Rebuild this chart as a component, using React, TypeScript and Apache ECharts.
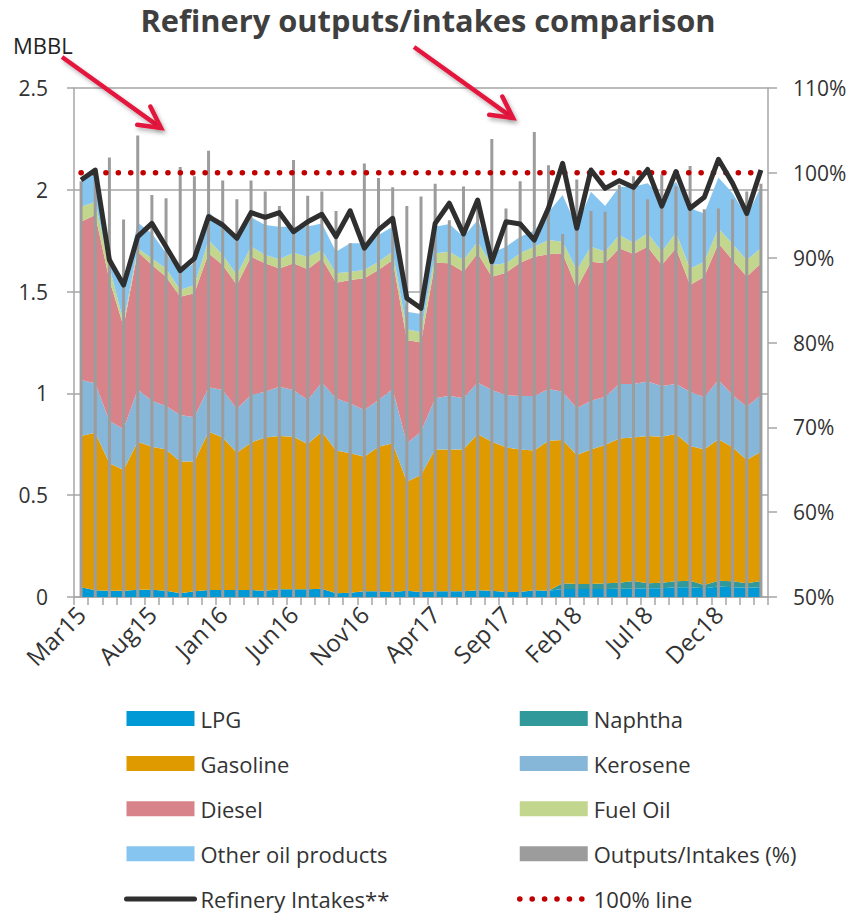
import React, { useEffect, useRef } from "react";
import * as echarts from "echarts";

const months = ["Mar15","Apr15","May15","Jun15","Jul15","Aug15","Sep15","Oct15","Nov15","Dec15","Jan16","Feb16","Mar16","Apr16","May16","Jun16","Jul16","Aug16","Sep16","Oct16","Nov16","Dec16","Jan17","Feb17","Mar17","Apr17","May17","Jun17","Jul17","Aug17","Sep17","Oct17","Nov17","Dec17","Jan18","Feb18","Mar18","Apr18","May18","Jun18","Jul18","Aug18","Sep18","Oct18","Nov18","Dec18","Jan19","Feb19","Mar19"];

const lpg = [0.048,0.033,0.031,0.031,0.036,0.036,0.031,0.018,0.028,0.034,0.034,0.034,0.034,0.031,0.038,0.038,0.038,0.040,0.018,0.021,0.028,0.028,0.025,0.031,0.025,0.028,0.028,0.028,0.033,0.031,0.025,0.025,0.033,0.031,0.039,0.039,0.039,0.039,0.041,0.041,0.043,0.043,0.048,0.048,0.043,0.051,0.048,0.046,0.048];
const naphtha = [0,0,0,0,0,0,0,0,0,0,0,0,0,0,0,0,0,0,0,0,0,0,0,0,0,0,0,0,0,0,0,0,0,0,0.028,0.025,0.025,0.028,0.029,0.038,0.024,0.027,0.029,0.032,0.016,0.029,0.029,0.021,0.031];
const gasoline = [0.743,0.774,0.626,0.593,0.727,0.702,0.694,0.647,0.637,0.778,0.750,0.675,0.724,0.753,0.753,0.749,0.713,0.772,0.701,0.685,0.661,0.710,0.730,0.535,0.574,0.697,0.697,0.697,0.768,0.732,0.710,0.700,0.686,0.736,0.704,0.633,0.661,0.680,0.709,0.705,0.724,0.717,0.724,0.662,0.666,0.695,0.658,0.606,0.635];
const kerosene = [0.275,0.243,0.209,0.200,0.257,0.225,0.213,0.229,0.218,0.218,0.233,0.214,0.234,0.224,0.242,0.230,0.217,0.241,0.257,0.245,0.229,0.230,0.265,0.189,0.213,0.251,0.264,0.251,0.252,0.254,0.257,0.262,0.268,0.255,0.237,0.230,0.239,0.237,0.267,0.262,0.267,0.249,0.245,0.266,0.256,0.291,0.257,0.262,0.278];
const diesel = [0.777,0.826,0.691,0.504,0.676,0.668,0.635,0.581,0.609,0.658,0.614,0.609,0.679,0.631,0.581,0.622,0.642,0.610,0.568,0.606,0.647,0.638,0.635,0.507,0.438,0.666,0.650,0.622,0.635,0.556,0.601,0.655,0.684,0.662,0.680,0.589,0.683,0.655,0.667,0.639,0.662,0.595,0.667,0.524,0.592,0.671,0.663,0.638,0.647];
const fuelOil = [0.074,0.064,0.065,0.024,0.017,0.032,0.041,0.033,0.040,0.065,0.049,0.050,0.050,0.041,0.045,0.052,0.060,0.041,0.046,0.041,0.041,0.041,0.041,0.053,0.050,0.046,0.057,0.057,0.057,0.058,0.046,0.046,0.049,0.069,0.057,0.090,0.073,0.057,0.065,0.055,0.066,0.065,0.076,0.082,0.074,0.074,0.079,0.082,0.074];
const otherProducts = [0.147,0.149,0.066,0.172,0.125,0.123,0.074,0.082,0.110,0.140,0.139,0.171,0.144,0.147,0.160,0.128,0.150,0.131,0.106,0.139,0.131,0.131,0.123,0.086,0.090,0.131,0.136,0.115,0.107,0.059,0.081,0.082,0.080,0.137,0.229,0.213,0.271,0.224,0.237,0.275,0.246,0.270,0.251,0.295,0.237,0.250,0.249,0.213,0.302];
const refineryIntakes = [2.048,2.097,1.655,1.532,1.770,1.835,1.720,1.603,1.663,1.868,1.827,1.762,1.888,1.865,1.888,1.794,1.843,1.880,1.770,1.897,1.713,1.803,1.860,1.467,1.418,1.835,1.934,1.783,1.950,1.647,1.843,1.832,1.753,1.910,2.130,1.811,2.097,2.007,2.045,2.012,2.100,1.920,2.089,1.909,1.963,2.150,2.032,1.884,2.097];
const outputsIntakesPct = [99.0,99.5,101.8,94.5,104.4,97.4,97.0,100.7,99.6,102.6,99.1,96.9,99.1,97.8,96.1,101.5,97.3,97.8,95.5,91.7,101.1,99.4,98.3,96.1,97.2,98.7,94.4,98.4,96.0,104.0,95.8,99.0,104.8,100.9,92.8,99.2,95.5,95.4,98.6,99.6,96.9,99.8,98.4,100.8,95.7,95.8,96.9,97.8,98.7];
const line100 = [100,100,100,100,100,100,100,100,100,100,100,100,100,100,100,100,100,100,100,100,100,100,100,100,100,100,100,100,100,100,100,100,100,100,100,100,100,100,100,100,100,100,100,100,100,100,100,100,100];

const leftTicks = { min: 0, max: 2.5, interval: 0.5 };
const rightTicks = { min: 50, max: 110, interval: 10 };

const FONT = "'Open Sans', 'Noto Sans', sans-serif";
const TEXT = "#333333";
const AXIS = "#A6A6A6";
const RED_ARROW = "#E3143C";

const C = {
  lpg: "#0099D6",
  naphtha: "#31999A",
  gasoline: "#DF9A00",
  kerosene: "#86B7D9",
  diesel: "#D8838A",
  fuel: "#C2D68D",
  other: "#86C5F0",
  bars: "#9C9C9C",
  intake: "#2F2F2F",
  line100: "#C00000",
};

function area(name: string, data: number[], color: string) {
  return {
    name,
    type: "line",
    stack: "outputs",
    yAxisIndex: 0,
    data,
    symbol: "none",
    silent: true,
    lineStyle: { width: 0, color },
    itemStyle: { color },
    areaStyle: { color, opacity: 1 },
    z: 2,
  };
}

function arrow(tail: number[], tip: number[]) {
  const dx = tip[0] - tail[0];
  const dy = tip[1] - tail[1];
  const ang = Math.atan2(dy, dx) + Math.PI;
  const len = 24;
  const spread = (28 * Math.PI) / 180;
  const w1 = [tip[0] + len * Math.cos(ang - spread), tip[1] + len * Math.sin(ang - spread)];
  const w2 = [tip[0] + len * Math.cos(ang + spread), tip[1] + len * Math.sin(ang + spread)];
  const shadow = { shadowBlur: 4, shadowOffsetX: 2, shadowOffsetY: 3, shadowColor: "rgba(0,0,0,0.3)" };
  return [
    {
      type: "line",
      shape: { x1: tail[0], y1: tail[1], x2: tip[0] - dx * 0.02, y2: tip[1] - dy * 0.02 },
      style: { stroke: RED_ARROW, lineWidth: 4.5, lineCap: "butt", ...shadow },
      z: 100,
    },
    {
      type: "polyline",
      shape: { points: [w1, tip, w2] },
      style: { stroke: RED_ARROW, fill: null, lineWidth: 4.5, lineCap: "round", lineJoin: "miter", ...shadow },
      z: 100,
    },
  ];
}

export default function App() {
  const ref = useRef<HTMLDivElement>(null);

  useEffect(() => {
    document.body.style.margin = "0";
    if (!ref.current) return;
    const chart = echarts.init(ref.current, null, { renderer: "svg" });

    const legendText = { fontSize: 22, color: TEXT, fontFamily: FONT, padding: [0, 0, 0, 1] };
    const legendCommon = {
      type: "plain",
      orient: "vertical",
      top: 707.5,
      height: 206,
      padding: 0,
      itemWidth: 68,
      itemHeight: 15,
      itemGap: 23.1,
      selectedMode: false,
      textStyle: legendText,
    };

    const option: any = {
      animation: false,
      title: {
        text: "Refinery outputs/intakes comparison",
        left: "center",
        top: 4,
        padding: [0, 0, 0, 19],
        textStyle: { fontSize: 30.8, fontWeight: "bold", color: "#3F3F3F", fontFamily: FONT },
      },
      graphic: [
        {
          type: "text",
          left: 13,
          top: 34,
          style: { text: "MBBL", fontSize: 22, fontFamily: FONT, fill: "#222222" },
          z: 100,
        },
        ...arrow([62, 57], [161, 128]),
        ...arrow([414, 47], [513, 118]),
      ],
      legend: [
        {
          ...legendCommon,
          left: 124,
          data: [
            { name: "LPG", icon: "rect" },
            { name: "Gasoline", icon: "rect" },
            { name: "Diesel", icon: "rect" },
            { name: "Other oil products", icon: "rect" },
            {
              name: "Refinery Intakes**",
              itemStyle: { opacity: 0 },
              lineStyle: { width: 5, cap: "round", color: C.intake },
            },
          ],
        },
        {
          ...legendCommon,
          left: 517,
          data: [
            { name: "Naphtha", icon: "rect" },
            { name: "Kerosene", icon: "rect" },
            { name: "Fuel Oil", icon: "rect" },
            { name: "Outputs/Intakes (%)", icon: "rect" },
            {
              name: "100% line",
              itemStyle: { opacity: 0 },
              lineStyle: { width: 5.5, cap: "round", type: [0.1, 12.3], color: C.line100 },
            },
          ],
        },
      ],
      grid: { left: 74, right: 88, top: 88, bottom: 317, containLabel: false },
      xAxis: {
        type: "category",
        data: months,
        boundaryGap: true,
        axisLine: { show: true, lineStyle: { color: AXIS, width: 1.5 } },
        axisTick: { show: true, interval: 0, length: 8, lineStyle: { color: AXIS, width: 1.5 } },
        axisLabel: { interval: 4, rotate: 45, fontSize: 24, color: TEXT, fontFamily: FONT, margin: 13 },
        splitLine: { show: false },
      },
      yAxis: [
        {
          type: "value",
          position: "left",
          ...leftTicks,
          axisLine: { show: true, lineStyle: { color: AXIS, width: 1.5 } },
          axisTick: { show: true, length: 7, lineStyle: { color: AXIS, width: 1.5 } },
          axisLabel: { fontSize: 21, color: TEXT, fontFamily: FONT, margin: 26 },
          splitLine: { show: true, lineStyle: { color: AXIS, width: 1.5 } },
        },
        {
          type: "value",
          position: "right",
          ...rightTicks,
          axisLine: { show: true, lineStyle: { color: AXIS, width: 1.5 } },
          axisTick: { show: true, length: 9, lineStyle: { color: AXIS, width: 1.5 } },
          axisLabel: { fontSize: 21, color: TEXT, fontFamily: FONT, margin: 25, formatter: "{value}%" },
          splitLine: { show: false },
        },
      ],
      series: [
        area("LPG", lpg, C.lpg),
        area("Naphtha", naphtha, C.naphtha),
        area("Gasoline", gasoline, C.gasoline),
        area("Kerosene", kerosene, C.kerosene),
        area("Diesel", diesel, C.diesel),
        area("Fuel Oil", fuelOil, C.fuel),
        area("Other oil products", otherProducts, C.other),
        {
          name: "Outputs/Intakes (%)",
          type: "bar",
          yAxisIndex: 1,
          data: outputsIntakesPct,
          barWidth: 3,
          itemStyle: { color: C.bars },
          silent: true,
          z: 3,
        },
        {
          name: "100% line",
          type: "line",
          yAxisIndex: 1,
          data: line100,
          symbol: "none",
          silent: true,
          itemStyle: { color: C.line100 },
          lineStyle: { color: C.line100, width: 5.5, type: [0.1, 12.3], cap: "round" },
          z: 4,
        },
        {
          name: "Refinery Intakes**",
          type: "line",
          yAxisIndex: 0,
          data: refineryIntakes,
          symbol: "none",
          silent: true,
          itemStyle: { color: C.intake },
          lineStyle: { color: C.intake, width: 5, join: "round" },
          z: 5,
        },
      ],
    };

    chart.setOption(option);
    return () => chart.dispose();
  }, []);

  return <div ref={ref} style={{ width: 856, height: 914 }} />;
}
